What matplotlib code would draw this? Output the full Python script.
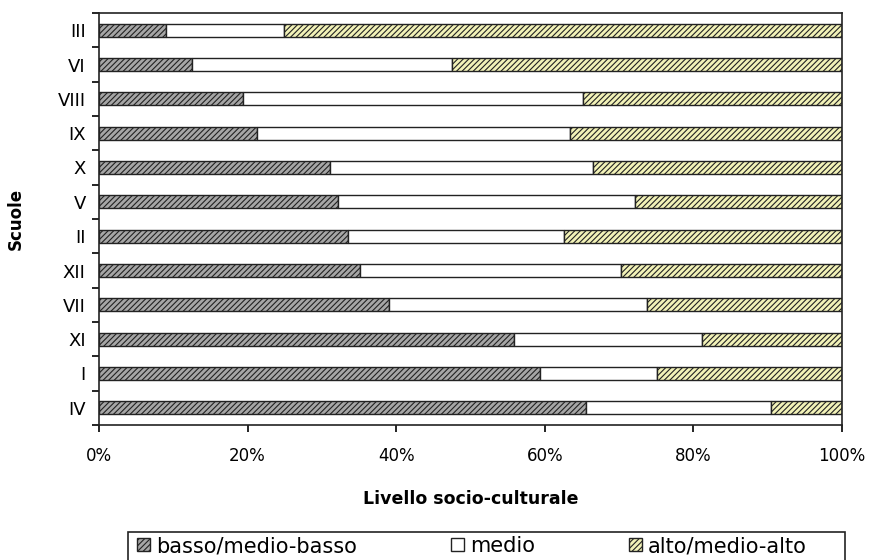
import matplotlib
matplotlib.use("Agg")
import matplotlib.pyplot as plt
from matplotlib.patches import Rectangle
import numpy as np

schools = ["III", "VI", "VIII", "IX", "X", "V", "II", "XII", "VII", "XI", "I", "IV"]
basso = [9.0, 12.5, 19.4, 21.2, 31.1, 32.1, 33.5, 35.1, 39.0, 55.8, 59.4, 65.5]
medio = [15.9, 35.0, 45.8, 42.2, 35.4, 40.0, 29.1, 35.2, 34.7, 25.4, 15.7, 24.9]
alto = [100 - b - m for b, m in zip(basso, medio)]
series_names = ["basso/medio-basso", "medio", "alto/medio-alto"]
xticks = [0, 20, 40, 60, 80, 100]

plt.rcParams['font.family'] = ['DejaVu Sans']
plt.rcParams['hatch.linewidth'] = 0.8

W, H = 872, 560
fig = plt.figure(figsize=(W / 100, H / 100), dpi=100)
ax = fig.add_axes([99/W, 1-425/H, (842-99)/W, (425-13)/H])

n = len(schools)
y = np.arange(n)[::-1]
h = 0.37
b1 = ax.barh(y, basso, height=h, color='#a6a6a6', edgecolor='#222222', hatch='//////', linewidth=1.0,
             label=series_names[0])
b2 = ax.barh(y, medio, left=basso, height=h, color='white', edgecolor='#222222', linewidth=1.0,
             label=series_names[1])
b3 = ax.barh(y, alto, left=np.array(basso) + np.array(medio), height=h, color='#f2f2b8',
             edgecolor='#222222', hatch='//////', linewidth=1.0, label=series_names[2])

ax.set_xlim(0, 100)
ax.set_ylim(-0.5, n - 0.5)
ax.set_xticks(xticks)
ax.set_xticklabels([f"{v}%" for v in xticks], fontsize=12)
ax.set_yticks(y)
ax.set_yticklabels(schools, fontsize=13)
ax.set_yticks(np.arange(n + 1) - 0.5, minor=True)
ax.tick_params(axis='y', which='major', length=0, pad=9.5)
ax.tick_params(axis='y', which='minor', length=5, width=1.2, direction='out')
ax.tick_params(axis='x', which='major', length=5, width=1.2, direction='out', pad=11)
for s in ax.spines.values():
    s.set_linewidth(1.2)
    s.set_color('#222222')

ax.set_xlabel("Livello socio-culturale", fontsize=12.5, fontweight='bold')
ax.xaxis.set_label_coords(0.5, -0.158)
ax.set_ylabel("Scuole", fontsize=12, fontweight='bold')
ax.yaxis.set_label_coords(-0.0996, 0.5)

leg = fig.legend(handles=[b1, b2, b3], labels=series_names, loc='upper left',
                 bbox_to_anchor=(137/W, 1-536/H), ncol=3, fontsize=15, frameon=False,
                 borderpad=0, borderaxespad=0, handlelength=0.62, handleheight=0.62,
                 handletextpad=0.3, columnspacing=4.5)

fig.patches.append(Rectangle((128/W, -5/H), (845-128)/W, (H-532+5)/H, transform=fig.transFigure,
                             fill=False, edgecolor='#222222', linewidth=1.2))

fig.savefig("out.png", dpi=100)
